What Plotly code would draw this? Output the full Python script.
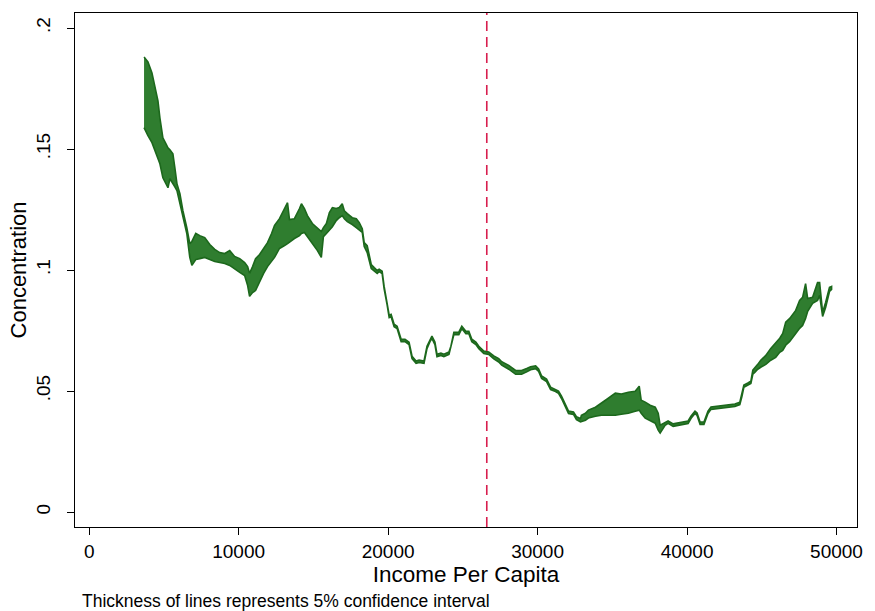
import plotly.graph_objects as go

# Income per capita grid with the 5% confidence band of the concentration estimate
income = [
    3670, 3930, 4200, 4400, 4600, 4730, 4930, 5130, 5270, 5400,
    5600, 5730, 5870, 6070, 6270, 6530, 6730, 6870, 7130, 7400,
    7730, 8070, 8400, 8730, 9070, 9400, 9730, 10070, 10400, 10600,
    10730, 10930, 11130, 11400, 11670, 11930, 12200, 12400, 12730, 13070,
    13270, 13400, 13730, 14070, 14200, 14400, 14600, 14930, 15270, 15530,
    15670, 15870, 16070, 16270, 16530, 16730, 16930, 17070, 17270, 17600,
    17870, 18070, 18270, 18400, 18600, 18870, 19070, 19270, 19400, 19600,
    19730, 19930, 20070, 20200, 20400, 20600, 20870, 21130, 21400, 21600,
    21870, 22070, 22400, 22600, 22800, 22930, 23130, 23270, 23530, 23730,
    24070, 24200, 24400, 24730, 24930, 25200, 25400, 25600, 25870, 26070,
    26400, 26730, 27070, 27400, 27600, 28070, 28530, 28930, 29270, 29530,
    29870, 30070, 30270, 30600, 30870, 31200, 31400, 31600, 31870, 32070,
    32400, 32600, 32870, 32930, 33200, 33400, 33870, 34270, 34730, 35200,
    35600, 36070, 36530, 36800, 36930, 37200, 37530, 37870, 38070, 38200,
    38530, 38730, 39070, 39400, 39730, 40070, 40270, 40530, 40670, 40870,
    41130, 41400, 41600, 42070, 42730, 43200, 43530, 43670, 43800, 44070,
    44270, 44400, 44530, 44730, 44930, 45270, 45600, 45930, 46200, 46400,
    46600, 46870, 47070, 47270, 47530, 47730, 47930, 48070, 48400, 48730,
    48870, 49070, 49270, 49530, 49670,
]

ci_upper = [
    0.1880, 0.1860, 0.1814, 0.1753, 0.1699, 0.1629, 0.1546, 0.1522, 0.1505, 0.1497,
    0.1480, 0.1423, 0.1357, 0.1315, 0.1245, 0.1175, 0.1109, 0.1118, 0.1151, 0.1142,
    0.1134, 0.1105, 0.1085, 0.1072, 0.1068, 0.1080, 0.1056, 0.1047, 0.1031, 0.1014,
    0.0986, 0.1014, 0.1047, 0.1064, 0.1089, 0.1113, 0.1151, 0.1184, 0.1212, 0.1254,
    0.1278, 0.1208, 0.1212, 0.1254, 0.1274, 0.1254, 0.1225, 0.1192, 0.1171, 0.1159,
    0.1175, 0.1192, 0.1237, 0.1258, 0.1254, 0.1258, 0.1274, 0.1245, 0.1233, 0.1216,
    0.1212, 0.1196, 0.1171, 0.1113, 0.1101, 0.1023, 0.1010, 0.0998, 0.1003, 0.0995,
    0.0933, 0.0867, 0.0813, 0.0817, 0.0776, 0.0768, 0.0714, 0.0714, 0.0702, 0.0644,
    0.0624, 0.0628, 0.0624, 0.0685, 0.0714, 0.0727, 0.0702, 0.0652, 0.0657, 0.0652,
    0.0661, 0.0685, 0.0743, 0.0743, 0.0768, 0.0747, 0.0747, 0.0714, 0.0702, 0.0685,
    0.0665, 0.0661, 0.0645, 0.0634, 0.0621, 0.0606, 0.0585, 0.0585, 0.0593, 0.0600,
    0.0604, 0.0591, 0.0562, 0.0549, 0.0516, 0.0508, 0.0500, 0.0479, 0.0446, 0.0417,
    0.0413, 0.0394, 0.0386, 0.0400, 0.0408, 0.0421, 0.0433, 0.0449, 0.0470, 0.0491,
    0.0487, 0.0495, 0.0499, 0.0520, 0.0462, 0.0454, 0.0441, 0.0433, 0.0408, 0.0359,
    0.0368, 0.0376, 0.0364, 0.0368, 0.0372, 0.0376, 0.0397, 0.0417, 0.0409, 0.0372,
    0.0372, 0.0417, 0.0434, 0.0438, 0.0442, 0.0446, 0.0454, 0.0487, 0.0525, 0.0533,
    0.0541, 0.0586, 0.0594, 0.0610, 0.0627, 0.0647, 0.0676, 0.0697, 0.0718, 0.0738,
    0.0784, 0.0800, 0.0816, 0.0833, 0.0874, 0.0887, 0.0944, 0.0882, 0.0887, 0.0948,
    0.0948, 0.0825, 0.0866, 0.0928, 0.0932,
]

ci_lower = [
    0.1588, 0.1555, 0.1526, 0.1493, 0.1460, 0.1439, 0.1381, 0.1357, 0.1340, 0.1377,
    0.1357, 0.1344, 0.1328, 0.1274, 0.1216, 0.1151, 0.1052, 0.1019, 0.1043, 0.1047,
    0.1052, 0.1043, 0.1035, 0.1031, 0.1027, 0.1019, 0.1006, 0.0990, 0.0977, 0.0936,
    0.0891, 0.0907, 0.0915, 0.0948, 0.0986, 0.1014, 0.1035, 0.1052, 0.1089, 0.1101,
    0.1109, 0.1113, 0.1130, 0.1142, 0.1151, 0.1155, 0.1138, 0.1109, 0.1080, 0.1052,
    0.1138, 0.1151, 0.1163, 0.1179, 0.1204, 0.1216, 0.1225, 0.1212, 0.1200, 0.1188,
    0.1175, 0.1167, 0.1155, 0.1097, 0.1072, 0.1006, 0.0998, 0.0986, 0.0993, 0.0985,
    0.0923, 0.0857, 0.0803, 0.0807, 0.0766, 0.0758, 0.0704, 0.0704, 0.0692, 0.0634,
    0.0614, 0.0618, 0.0614, 0.0675, 0.0704, 0.0717, 0.0692, 0.0642, 0.0647, 0.0642,
    0.0651, 0.0675, 0.0733, 0.0733, 0.0758, 0.0737, 0.0737, 0.0704, 0.0692, 0.0675,
    0.0655, 0.0651, 0.0633, 0.0620, 0.0607, 0.0590, 0.0569, 0.0569, 0.0579, 0.0588,
    0.0592, 0.0581, 0.0552, 0.0539, 0.0506, 0.0498, 0.0490, 0.0469, 0.0436, 0.0407,
    0.0403, 0.0382, 0.0372, 0.0375, 0.0379, 0.0388, 0.0396, 0.0400, 0.0400, 0.0400,
    0.0404, 0.0408, 0.0416, 0.0421, 0.0408, 0.0388, 0.0379, 0.0367, 0.0338, 0.0326,
    0.0358, 0.0366, 0.0354, 0.0358, 0.0362, 0.0366, 0.0387, 0.0407, 0.0399, 0.0362,
    0.0362, 0.0407, 0.0424, 0.0428, 0.0432, 0.0436, 0.0444, 0.0477, 0.0515, 0.0523,
    0.0531, 0.0569, 0.0577, 0.0590, 0.0598, 0.0610, 0.0627, 0.0639, 0.0660, 0.0668,
    0.0689, 0.0705, 0.0722, 0.0738, 0.0759, 0.0771, 0.0800, 0.0829, 0.0862, 0.0874,
    0.0895, 0.0808, 0.0845, 0.0911, 0.0920,
]

cutoff_income = 26600

x_ticks = [0, 10000, 20000, 30000, 40000, 50000]
x_tick_text = ["0", "10000", "20000", "30000", "40000", "50000"]
y_ticks = [0, 0.05, 0.1, 0.15, 0.2]
y_tick_text = ["0", ".05", ".1", ".15", ".2"]

FONT = "Liberation Sans, Arial, Helvetica, sans-serif"

fig = go.Figure()

# Band drawn as one closed polygon: upper bound forward, lower bound back
fig.add_trace(go.Scatter(
    x=income + income[::-1],
    y=ci_upper + ci_lower[::-1],
    mode="lines",
    fill="toself",
    fillcolor="#2f7d2f",
    line=dict(color="#1c681c", width=1.6),
    hoverinfo="skip",
    showlegend=False,
))

fig.add_shape(
    type="line",
    xref="x", yref="paper",
    x0=cutoff_income, x1=cutoff_income, y0=0, y1=1,
    line=dict(color="#d81e4e", width=1.6, dash="10px,6px"),
)

axis_common = dict(
    showline=True, mirror=True, linecolor="black", linewidth=1,
    ticks="outside", ticklen=7, tickcolor="black", tickwidth=1,
    showgrid=False, zeroline=False,
    tickfont=dict(family=FONT, size=19, color="black"),
)

fig.update_layout(
    width=875, height=611,
    margin=dict(l=75, r=15, t=12, b=84),
    paper_bgcolor="white", plot_bgcolor="white",
    font=dict(family=FONT, color="black"),
    xaxis=dict(
        range=[-950, 51370],
        tickvals=x_ticks, ticktext=x_tick_text,
        title=dict(text="Income Per Capita", font=dict(family=FONT, size=22.5), standoff=3),
        **axis_common,
    ),
    yaxis=dict(
        range=[-0.0062, 0.2062],
        tickvals=y_ticks, ticktext=y_tick_text, tickangle=-90,
        ticklabelstandoff=9,
        title=dict(text="Concentration", font=dict(family=FONT, size=22), standoff=0),
        **axis_common,
    ),
    annotations=[dict(
        text="Thickness of lines represents 5% confidence interval",
        xref="paper", yref="paper", x=0.006, y=-0.1437,
        xanchor="left", yanchor="middle", showarrow=False,
        font=dict(family=FONT, size=17.5, color="black"),
    )],
)

fig.write_html("out.html")
